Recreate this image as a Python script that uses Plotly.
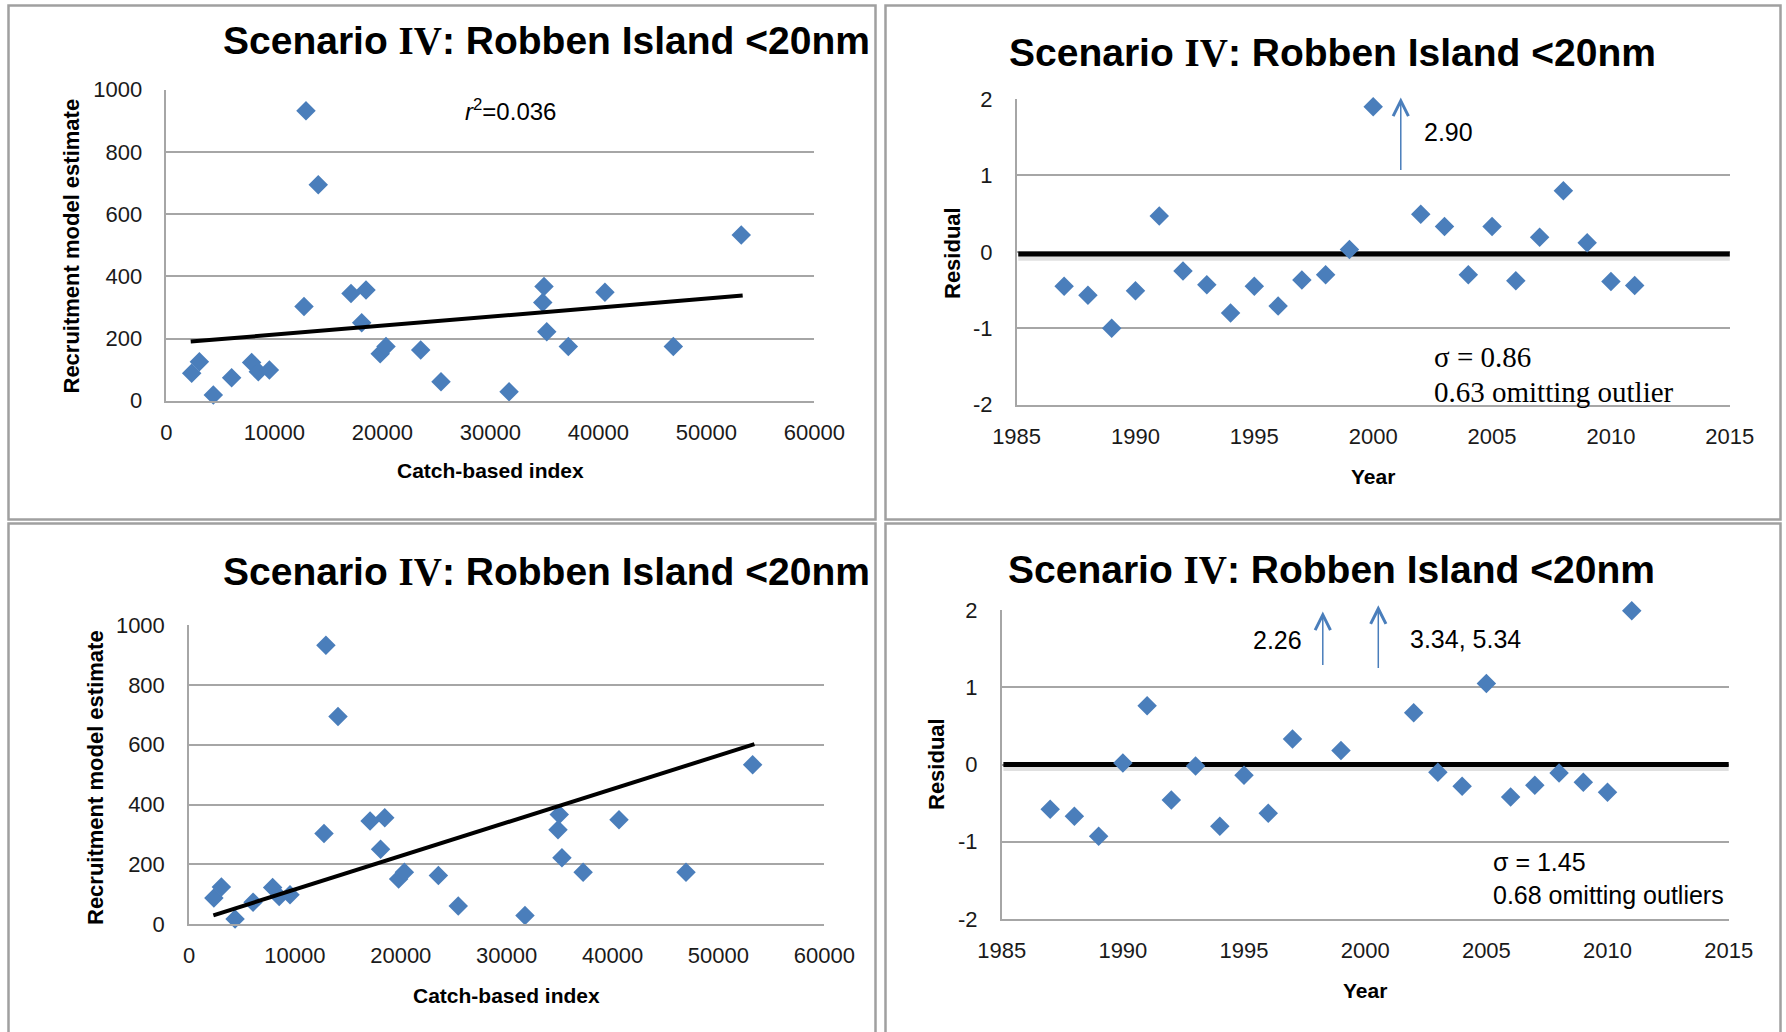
import plotly.graph_objects as go

# ---------------- data ----------------
catch_index = [2350, 3060, 4350, 6050, 7900, 8520, 9540, 12750, 12930, 14070,
               17100, 18090, 18490, 19800, 20340, 23550, 25430, 31730, 34850,
               34970, 35220, 37220, 40610, 46940, 53230]
recruit_est = [88, 125, 18, 74, 123, 93, 99, 303, 932, 694,
               345, 251, 356, 151, 174, 163, 61, 29, 316,
               367, 222, 174, 349, 174, 533]

trend_top_x = [2260, 53360]
trend_top_y = [190, 338]
trend_bot_x = [2300, 53400]
trend_bot_y = [30, 602]

years_top = [1987, 1988, 1989, 1990, 1991, 1992, 1993, 1994, 1995, 1996, 1997,
             1998, 1999, 2000, 2002, 2003, 2004, 2005, 2006, 2007, 2008, 2009,
             2010, 2011]
resid_top = [-0.45, -0.57, -1.00, -0.51, 0.47, -0.25, -0.43, -0.80, -0.45, -0.71,
             -0.37, -0.30, 0.03, 1.90, 0.49, 0.33, -0.30, 0.33, -0.38, 0.19,
             0.80, 0.12, -0.39, -0.44]

years_bot = [1987, 1988, 1989, 1990, 1991, 1992, 1993, 1994, 1995, 1996, 1997,
             1999, 2002, 2003, 2004, 2005, 2006, 2007, 2008, 2009, 2010, 2011]
resid_bot = [-0.58, -0.67, -0.93, 0.02, 0.76, -0.46, -0.02, -0.80, -0.14, -0.63,
             0.33, 0.18, 0.67, -0.10, -0.28, 1.05, -0.42, -0.27, -0.11, -0.23,
             -0.36, 1.99]

zero_x = [1985.07, 2015.56]
zero_top_y = [-0.03, -0.03]
zero_bot_y = [0.0, 0.0]

# outliers beyond the axis, shown as arrows with labels
out_top_x = [2001.16]
out_top_base = [1.05]
out_top_tip = [2.02]
out_top_label = "2.90"
out_bot_x = [1998.25, 2000.54]
out_bot_base = [1.27, 1.23]
out_bot_tip = [1.98, 2.06]
out_bot_labels = ["2.26", "3.34, 5.34"]

catch_ticks = [0, 10000, 20000, 30000, 40000, 50000, 60000]
recruit_ticks = [0, 200, 400, 600, 800, 1000]
year_ticks = [1985, 1990, 1995, 2000, 2005, 2010, 2015]
resid_ticks = [-2, -1, 0, 1, 2]

r2_text = "<i>r</i><sup>2</sup>=0.036"
sigma_top = ["\u03c3 = 0.86", "0.63 omitting outlier"]
sigma_bot = ["\u03c3 = 1.45", "0.68 omitting outliers"]
title_text = ('Scenario <span style="font-family:Liberation Serif">IV</span>'
              ': Robben Island &lt;20nm')

# ---------------- style ----------------
W, H = 1786, 1032
SANS = "Liberation Sans, Arial, sans-serif"
SERIF = "Liberation Serif, Times New Roman, serif"
BLUE = "#4A7EBB"
GRID = "#A6A6A6"
TXT = "#1a1a1a"
SHADOW_DROP = 0.04  # visual drop shadow offset of the zero line (style only)


def fx(px):
    return px / W


def fy(py):
    return 1 - py / H


fig = go.Figure()

marker = dict(symbol="diamond", size=15, color=BLUE, line=dict(width=0))

# scatter panels
for xa, ya in (("x", "y"), ("x3", "y3")):
    fig.add_trace(go.Scatter(x=catch_index, y=recruit_est, mode="markers",
                             marker=marker, xaxis=xa, yaxis=ya,
                             cliponaxis=False, showlegend=False))
fig.add_trace(go.Scatter(x=trend_top_x, y=trend_top_y, mode="lines",
                         line=dict(color="black", width=4), xaxis="x", yaxis="y",
                         showlegend=False))
fig.add_trace(go.Scatter(x=trend_bot_x, y=trend_bot_y, mode="lines",
                         line=dict(color="black", width=4), xaxis="x3", yaxis="y3",
                         showlegend=False))

# residual panels
for zy, xa, ya, yrs, res in ((zero_top_y, "x2", "y2", years_top, resid_top),
                             (zero_bot_y, "x4", "y4", years_bot, resid_bot)):
    fig.add_trace(go.Scatter(x=zero_x, y=[v - SHADOW_DROP for v in zy], mode="lines",
                             line=dict(color="rgba(0,0,0,0.12)", width=7),
                             xaxis=xa, yaxis=ya, showlegend=False,
                             hoverinfo="skip"))
    fig.add_trace(go.Scatter(x=zero_x, y=zy, mode="lines",
                             line=dict(color="black", width=5), xaxis=xa, yaxis=ya,
                             showlegend=False))
    fig.add_trace(go.Scatter(x=yrs, y=res, mode="markers", marker=marker,
                             xaxis=xa, yaxis=ya, cliponaxis=False,
                             showlegend=False))

# plot-area pixel boxes: (left, right, top, bottom)
boxes = {
    "1": (166.3, 814.4, 89.7, 400.7),
    "2": (1016.6, 1729.8, 99.0, 404.6),
    "3": (189.0, 824.3, 625.0, 924.3),
    "4": (1001.7, 1728.7, 610.0, 919.0),
}

tickfont = dict(family=SANS, size=22, color=TXT)


def xaxis_cfg(key, rng, ticks, anchor):
    l, r, t, b = boxes[key]
    return dict(domain=[fx(l), fx(r)], range=rng, tickvals=ticks,
                ticktext=[str(v) for v in ticks], showgrid=False, zeroline=False,
                showline=True, linecolor=GRID, linewidth=1.5, ticks="",
                tickfont=tickfont, ticklabelstandoff=11, anchor=anchor,
                automargin=False, fixedrange=True)


def yaxis_cfg(key, rng, ticks, anchor):
    l, r, t, b = boxes[key]
    return dict(domain=[fy(b), fy(t)], range=rng, tickvals=ticks,
                ticktext=[str(v) for v in ticks], showgrid=True, gridcolor=GRID,
                gridwidth=1.5, zeroline=False, showline=True, linecolor=GRID,
                linewidth=1.5, ticks="", tickfont=tickfont, ticklabelstandoff=18,
                anchor=anchor, automargin=False, fixedrange=True)


fig.update_layout(
    template="none",
    width=W, height=H, autosize=False,
    margin=dict(l=0, r=0, t=0, b=0, pad=0),
    paper_bgcolor="white", plot_bgcolor="white", showlegend=False,
    xaxis=xaxis_cfg("1", [0, 60000], catch_ticks, "y"),
    yaxis=yaxis_cfg("1", [0, 1000], recruit_ticks, "x"),
    xaxis2=xaxis_cfg("2", [1985, 2015], year_ticks, "y2"),
    yaxis2=yaxis_cfg("2", [-2, 2], resid_ticks, "x2"),
    xaxis3=xaxis_cfg("3", [0, 60000], catch_ticks, "y3"),
    yaxis3=yaxis_cfg("3", [0, 1000], recruit_ticks, "x3"),
    xaxis4=xaxis_cfg("4", [1985, 2015], year_ticks, "y4"),
    yaxis4=yaxis_cfg("4", [-2, 2], resid_ticks, "x4"),
)

# panel frames
frames = [(8.5, 875.5, 5.5, 519.5), (885.5, 1780.5, 5.5, 519.5),
          (8.5, 875.5, 523.5, 1040), (885.5, 1780.5, 523.5, 1040)]
for l, r, t, b in frames:
    fig.add_shape(type="rect", xref="paper", yref="paper",
                  x0=fx(l), x1=fx(r), y0=fy(b), y1=fy(t),
                  line=dict(color="#A0A0A0", width=2.5), layer="below")

ann = []


def text_px(x, y, text, size, bold=False, family=SANS, angle=0, xanchor="center"):
    ann.append(dict(x=fx(x), y=fy(y), xref="paper", yref="paper", text=text,
                    showarrow=False, textangle=angle, xanchor=xanchor,
                    yanchor="middle",
                    font=dict(family=family, size=size, color="black",
                              weight="bold" if bold else "normal")))


# titles
text_px(546, 41, title_text, 39, bold=True)
text_px(1332.5, 53, title_text, 39, bold=True)
text_px(546, 571, title_text, 39, bold=True)
text_px(1331, 569, title_text, 39, bold=True)

# axis titles
text_px(71.5, 246, "Recruitment model estimate", 22, bold=True, angle=-90)
text_px(95, 778, "Recruitment model estimate", 22, bold=True, angle=-90)
text_px(952, 253, "Residual", 22, bold=True, angle=-90)
text_px(936.5, 764.5, "Residual", 22, bold=True, angle=-90)
text_px(490.5, 471, "Catch-based index", 21, bold=True)
text_px(506.5, 995, "Catch-based index", 21, bold=True)
text_px(1372.5, 477, "Year", 21, bold=True)
text_px(1365, 990, "Year", 21, bold=True)

# in-plot notes (data coordinates)
ann.append(dict(x=31820, y=935, xref="x", yref="y", text=r2_text, showarrow=False,
                font=dict(family=SANS, size=24, color="black")))
ann.append(dict(x=2003.18, y=1.57, xref="x2", yref="y2", text=out_top_label,
                showarrow=False, font=dict(family=SANS, size=25, color="black")))
ann.append(dict(x=1996.4, y=1.61, xref="x4", yref="y4", text=out_bot_labels[0],
                showarrow=False, font=dict(family=SANS, size=25, color="black")))
ann.append(dict(x=2004.14, y=1.62, xref="x4", yref="y4", text=out_bot_labels[1],
                showarrow=False, font=dict(family=SANS, size=25, color="black")))

ann.append(dict(x=2002.46, y=-1.373, xref="x2", yref="y2", text=sigma_top[0],
                xanchor="left", showarrow=False,
                font=dict(family=SERIF, size=29, color="black")))
ann.append(dict(x=2002.46, y=-1.831, xref="x2", yref="y2", text=sigma_top[1],
                xanchor="left", showarrow=False,
                font=dict(family=SERIF, size=29, color="black")))
ann.append(dict(x=2005.18, y=-1.258, xref="x4", yref="y4", text=sigma_bot[0],
                xanchor="left", showarrow=False,
                font=dict(family=SANS, size=25, color="black")))
ann.append(dict(x=2005.18, y=-1.689, xref="x4", yref="y4", text=sigma_bot[1],
                xanchor="left", showarrow=False,
                font=dict(family=SANS, size=25, color="black")))

# arrows
arrow_style = dict(showarrow=True, text="", arrowhead=5, arrowsize=2,
                   arrowwidth=1.5, arrowcolor=BLUE, standoff=0, startstandoff=0)
for xv, b, t in zip(out_top_x, out_top_base, out_top_tip):
    ann.append(dict(x=xv, y=t, ax=xv, ay=b, xref="x2", yref="y2",
                    axref="x2", ayref="y2", **arrow_style))
for xv, b, t in zip(out_bot_x, out_bot_base, out_bot_tip):
    ann.append(dict(x=xv, y=t, ax=xv, ay=b, xref="x4", yref="y4",
                    axref="x4", ayref="y4", **arrow_style))

fig.update_layout(annotations=ann)

# remove the browser's default 8px body margin so the figure sits at (0, 0)
fig.write_html("out.html",
               config={"displayModeBar": False},
               post_script="document.body.style.margin='0';"
                           "document.body.style.overflow='hidden';")
